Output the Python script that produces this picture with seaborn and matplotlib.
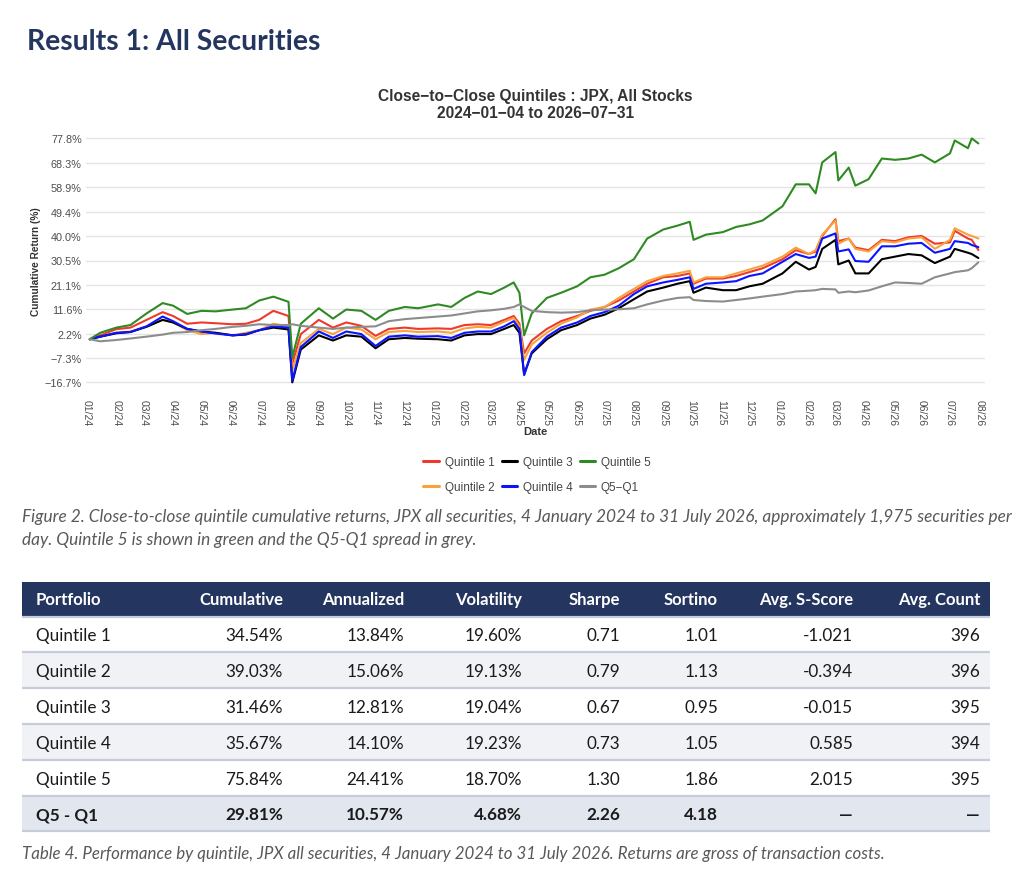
import matplotlib
matplotlib.use("Agg")
import matplotlib.pyplot as plt
import pandas as pd
import seaborn as sns
from matplotlib.patches import Rectangle

# --- data (cumulative return, %) ---
DATES = [
    "2024-01-04", "2024-01-15", "2024-02-01", "2024-02-16", "2024-03-04", "2024-03-21",
    "2024-04-01", "2024-04-16", "2024-05-01", "2024-05-16", "2024-06-03", "2024-06-17",
    "2024-07-01", "2024-07-16", "2024-08-01", "2024-08-05", "2024-08-14", "2024-09-02",
    "2024-09-17", "2024-10-01", "2024-10-17", "2024-11-01", "2024-11-15", "2024-12-02",
    "2024-12-16", "2025-01-06", "2025-01-20", "2025-02-03", "2025-02-17", "2025-03-03",
    "2025-03-17", "2025-03-27", "2025-04-02", "2025-04-07", "2025-04-15", "2025-05-01",
    "2025-05-16", "2025-06-02", "2025-06-16", "2025-07-01", "2025-07-16", "2025-08-01",
    "2025-08-15", "2025-09-01", "2025-09-16", "2025-09-29", "2025-10-03", "2025-10-16",
    "2025-11-03", "2025-11-17", "2025-12-01", "2025-12-15", "2026-01-05", "2026-01-19",
    "2026-02-02", "2026-02-09", "2026-02-16", "2026-03-02", "2026-03-05", "2026-03-16",
    "2026-03-23", "2026-04-06", "2026-04-20", "2026-05-04", "2026-05-18", "2026-06-01",
    "2026-06-15", "2026-07-01", "2026-07-06", "2026-07-20", "2026-07-24", "2026-07-31",
]

Q1 = [0.0, 1.5, 3.9, 4.5, 7.5, 10.5,
      9.0, 6.0, 6.5, 6.2, 5.8, 6.0,
      7.5, 11.0, 9.0, -9.5, 2.0, 7.5,
      4.5, 6.5, 5.2, 1.3, 4.0, 4.5,
      4.0, 4.2, 4.0, 5.5, 5.8, 5.5,
      7.5, 9.0, 6.0, -5.5, -0.5, 4.0,
      7.0, 9.0, 11.0, 12.5, 15.0, 18.5,
      21.5, 24.0, 24.5, 25.5, 21.5, 23.5,
      23.5, 24.5, 26.0, 27.5, 31.0, 34.5,
      33.0, 34.0, 40.0, 46.5, 38.0, 39.0,
      35.5, 34.5, 38.5, 38.0, 39.5, 40.0,
      37.0, 37.5, 42.0, 39.0, 38.5, 34.54]

Q2 = [0.0, 1.0, 2.5, 3.0, 5.0, 7.5,
      6.5, 3.5, 2.0, 2.5, 1.5, 2.5,
      3.5, 6.0, 5.0, -12.0, -1.5, 4.0,
      2.0, 4.5, 3.8, 0.0, 2.8, 3.2,
      2.8, 3.0, 2.5, 4.2, 4.8, 4.5,
      6.8, 8.2, 5.0, -8.0, -2.0, 2.5,
      6.0, 8.5, 11.5, 12.5, 16.0, 19.5,
      22.5, 24.5, 25.5, 26.5, 22.0, 24.0,
      24.0, 25.5, 27.0, 28.5, 32.0, 35.5,
      33.0, 34.5, 40.5, 46.0, 37.0, 39.0,
      35.0, 34.0, 38.0, 37.5, 39.0, 39.5,
      35.0, 38.5, 43.0, 40.5, 40.0, 39.03]

Q3 = [0.0, 1.0, 2.3, 2.8, 4.8, 7.5,
      6.5, 4.0, 3.0, 2.5, 1.5, 1.8,
      3.5, 4.5, 3.8, -16.7, -4.0, 1.5,
      -0.5, 1.5, 1.0, -3.5, 0.0, 0.5,
      0.2, 0.0, -0.5, 1.5, 2.0, 2.0,
      4.0, 5.5, 2.5, -13.5, -5.5, 0.0,
      3.5, 5.5, 8.0, 9.5, 12.0, 15.5,
      18.5, 20.0, 21.5, 22.5, 18.0, 20.0,
      19.0, 19.0, 20.5, 21.5, 25.5, 30.0,
      27.0, 28.0, 35.0, 38.5, 29.0, 30.5,
      25.5, 25.5, 31.0, 32.0, 33.0, 32.5,
      29.5, 32.0, 35.0, 33.5, 33.0, 31.46]

Q4 = [0.0, 1.0, 2.5, 2.8, 5.0, 8.8,
      7.0, 4.0, 3.0, 2.2, 1.5, 2.0,
      3.5, 5.0, 4.5, -16.0, -3.0, 3.0,
      0.5, 3.0, 2.0, -2.6, 1.0, 1.5,
      1.0, 1.2, 0.5, 2.5, 3.0, 3.0,
      5.0, 7.0, 4.0, -13.9, -5.0, 1.0,
      4.5, 6.5, 9.0, 10.5, 13.0, 17.5,
      20.5, 22.0, 23.0, 24.0, 19.5, 21.5,
      22.0, 22.5, 24.5, 25.5, 30.0, 33.0,
      31.5, 32.0, 39.0, 41.0, 34.0, 34.8,
      30.3, 30.0, 36.0, 36.0, 37.0, 37.3,
      33.5, 35.0, 38.0, 37.3, 36.5, 35.67]

Q5 = [0.0, 2.5, 4.5, 5.5, 10.0, 14.0,
      13.0, 9.8, 11.0, 10.8, 11.5, 12.0,
      15.0, 16.5, 14.5, -7.0, 6.0, 12.0,
      8.0, 11.5, 11.0, 7.5, 11.0, 12.5,
      12.0, 13.5, 12.5, 16.0, 18.5, 17.5,
      20.0, 22.0, 18.0, 1.5, 10.0, 16.0,
      18.0, 20.5, 24.0, 25.0, 27.5, 31.0,
      39.0, 42.5, 44.0, 45.5, 38.5, 40.5,
      41.5, 43.5, 44.5, 46.0, 51.5, 60.0,
      60.0, 56.5, 68.5, 72.5, 61.5, 66.5,
      59.5, 62.0, 70.0, 69.5, 70.0, 71.5,
      68.5, 72.0, 77.0, 74.0, 77.8, 75.84]

SPREAD = [0.0, -0.8, -0.3, 0.3, 1.0, 1.8,
          2.5, 2.8, 3.5, 4.0, 4.8, 5.2,
          5.8, 5.5, 5.5, 5.8, 5.2, 4.5,
          4.0, 4.5, 4.8, 5.0, 7.0, 7.8,
          8.2, 8.8, 9.2, 10.0, 10.8, 11.2,
          11.8, 12.5, 13.5, 12.5, 11.0, 10.5,
          10.3, 10.5, 11.2, 11.5, 11.6, 12.0,
          13.5, 15.0, 16.0, 16.3, 15.2, 14.8,
          14.6, 15.2, 15.8, 16.5, 17.5, 18.5,
          18.8, 19.0, 19.5, 19.3, 18.0, 18.5,
          18.2, 18.9, 20.5, 22.0, 21.8, 21.5,
          24.0, 25.5, 26.0, 26.7, 27.5, 29.81]

SERIES = ["Quintile 1", "Quintile 2", "Quintile 3", "Quintile 4", "Quintile 5", "Q5\u2212Q1"]
COLORS = ["#ee3a2c", "#f9a23c", "#000000", "#0a14ff", "#2f8a23", "#8c8c8c"]

YTICKS = [-16.7, -7.3, 2.2, 11.6, 21.1, 30.5, 40.0, 49.4, 58.9, 68.3, 77.8]
YTICK_LABELS = ["\u221216.7%", "\u22127.3%", "2.2%", "11.6%", "21.1%", "30.5%",
                "40.0%", "49.4%", "58.9%", "68.3%", "77.8%"]
MONTHS = pd.date_range("2024-01-01", "2026-08-01", freq="MS")

# --- table ---
TABLE_HEADER = ["Portfolio", "Cumulative", "Annualized", "Volatility", "Sharpe",
                "Sortino", "Avg. S-Score", "Avg. Count"]
TABLE_ROWS = [
    ["Quintile 1", "34.54%", "13.84%", "19.60%", "0.71", "1.01", "-1.021", "396"],
    ["Quintile 2", "39.03%", "15.06%", "19.13%", "0.79", "1.13", "-0.394", "396"],
    ["Quintile 3", "31.46%", "12.81%", "19.04%", "0.67", "0.95", "-0.015", "395"],
    ["Quintile 4", "35.67%", "14.10%", "19.23%", "0.73", "1.05", "0.585", "394"],
    ["Quintile 5", "75.84%", "24.41%", "18.70%", "1.30", "1.86", "2.015", "395"],
    ["Q5 - Q1", "29.81%", "10.57%", "4.68%", "2.26", "4.18", "\u2014", "\u2014"],
]

FIG_CAPTION = [
    "Figure 2. Close-to-close quintile cumulative returns, JPX all securities, 4 January 2024 "
    "to 31 July 2026, approximately 1,975 securities per",
    "day. Quintile 5 is shown in green and the Q5-Q1 spread in grey.",
]
TABLE_CAPTION = ("Table 4. Performance by quintile, JPX all securities, 4 January 2024 "
                 "to 31 July 2026. Returns are gross of transaction costs.")

NAVY = "#24365f"

sns.set_style("white")
plt.rcParams["font.family"] = ["Liberation Sans", "DejaVu Sans"]

fig = plt.figure(figsize=(10.3, 8.78), dpi=100)
renderer = fig.canvas.get_renderer()


def fit(txt, width):
    # scale the font so the text spans the wanted pixel width
    w = txt.get_window_extent(renderer).width
    txt.set_fontsize(txt.get_fontsize() * width / w)
    return txt.get_fontsize()


# page layer in pixel coordinates for the report text and table
page = fig.add_axes([0, 0, 1, 1])
page.set_xlim(0, 1030)
page.set_ylim(878, 0)
page.axis("off")

heading = page.text(27, 42, "Results 1: All Securities", family=["Lato", "DejaVu Sans"],
                    weight="bold", color=NAVY, va="center", fontsize=20)
fit(heading, 294)

t1 = page.text(535.5, 97, "Close\u2212to\u2212Close Quintiles : JPX, All Stocks",
               ha="center", va="center", weight="bold", color="#333333", fontsize=10)
size = fit(t1, 315)
page.text(535.5, 114, "2024\u221201\u221204 to 2026\u221207\u221231", ha="center",
          va="center", weight="bold", color="#333333", fontsize=size)

# --- line chart ---
ax = fig.add_axes([86 / 1030, 1 - 396 / 878, 899 / 1030, 269 / 878])
df = pd.DataFrame({"date": pd.to_datetime(DATES)})
for name, vals in zip(SERIES, [Q1, Q2, Q3, Q4, Q5, SPREAD]):
    df[name] = vals
long = df.melt(id_vars="date", var_name="series", value_name="ret")

sns.lineplot(data=long, x="date", y="ret", hue="series", hue_order=SERIES,
             palette=dict(zip(SERIES, COLORS)), linewidth=1.5, ax=ax)

ax.set_xlim(pd.Timestamp("2023-12-31"), pd.Timestamp("2026-08-07"))
ax.set_ylim(-21.6, 82.6)
ax.set_yticks(YTICKS)
ax.set_yticklabels(YTICK_LABELS)
ax.set_xticks(MONTHS)
ax.set_xticklabels(MONTHS.strftime("%m/%y"), rotation=270)
ax.tick_params(axis="both", length=0, colors="#4d4d4d")
ax.tick_params(axis="y", labelsize=7.8, pad=3)
ax.tick_params(axis="x", labelsize=7.5, pad=3)
for s in ax.spines.values():
    s.set_visible(False)
ax.grid(axis="y", color="#e4e4e4", linewidth=1.0)
ax.grid(axis="x", visible=False)

ax.set_xlabel("Date", weight="bold", fontsize=8, color="#333333")
ax.set_ylabel("Cumulative Return (%)", weight="bold", fontsize=7.3, color="#333333")
ax.xaxis.set_label_coords(0.5, -(432 - 396) / 269)
ax.yaxis.set_label_coords(-50 / 899, 0.5)
ax.xaxis.label.set_va("center")
ax.yaxis.label.set_va("center")

leg = ax.get_legend()
handles = leg.legend_handles
labels = [t.get_text() for t in leg.get_texts()]
leg.remove()
for h in handles:
    h.set_linewidth(2.2)
fig.legend(handles, labels, loc="center", bbox_to_anchor=(537 / 1030, 1 - 475.5 / 878),
           ncol=3, frameon=False, fontsize=8.5, handlelength=1.3, handletextpad=0.5,
           columnspacing=0.6, labelspacing=1.1, labelcolor="#444444")

# --- captions ---
cap = page.text(22, 517, FIG_CAPTION[0], family=["Lato", "DejaVu Sans"], style="italic",
                color="#595959", va="center", fontsize=10)
size = fit(cap, 988)
page.text(22, 540, FIG_CAPTION[1], family=["Lato", "DejaVu Sans"], style="italic",
          color="#595959", va="center", fontsize=size)

# --- table ---
LEFT, RIGHT = 22, 990
ROW_H = 35.9
HEAD_TOP, HEAD_BOT = 583, 617
COL_X = [36, 283, 404, 522, 620, 718, 853, 980]
ROW_BG = ["#ffffff", "#f1f2f6", "#ffffff", "#f1f2f6", "#ffffff", "#e2e6ef"]

page.add_patch(Rectangle((LEFT, HEAD_TOP), RIGHT - LEFT, HEAD_BOT - HEAD_TOP,
                         color=NAVY, lw=0))
for j, h in enumerate(TABLE_HEADER):
    page.text(COL_X[j], (HEAD_TOP + HEAD_BOT) / 2, h, family=["Lato", "DejaVu Sans"],
              weight="bold", color="white", fontsize=12, va="center",
              ha="left" if j == 0 else "right")

for i, row in enumerate(TABLE_ROWS):
    top = HEAD_BOT + i * ROW_H
    page.add_patch(Rectangle((LEFT, top), RIGHT - LEFT, ROW_H, color=ROW_BG[i], lw=0))
    page.hlines(top + 0.5, LEFT, RIGHT, color="#c6ccda", lw=1.6)
    bold = i == len(TABLE_ROWS) - 1
    for j, cell in enumerate(row):
        page.text(COL_X[j], top + ROW_H / 2 + 1, cell, family=["Lato", "DejaVu Sans"],
                  weight="bold" if bold else "normal", color="#1a1a1a", fontsize=12.3,
                  va="center", ha="left" if j == 0 else "right")
page.hlines(HEAD_BOT + len(TABLE_ROWS) * ROW_H, LEFT, RIGHT, color="#c6ccda", lw=1.6)

tcap = page.text(22, 854, TABLE_CAPTION, family=["Lato", "DejaVu Sans"], style="italic",
                 color="#595959", va="center", fontsize=10)
fit(tcap, 861)

fig.savefig("out.png", dpi=100)
